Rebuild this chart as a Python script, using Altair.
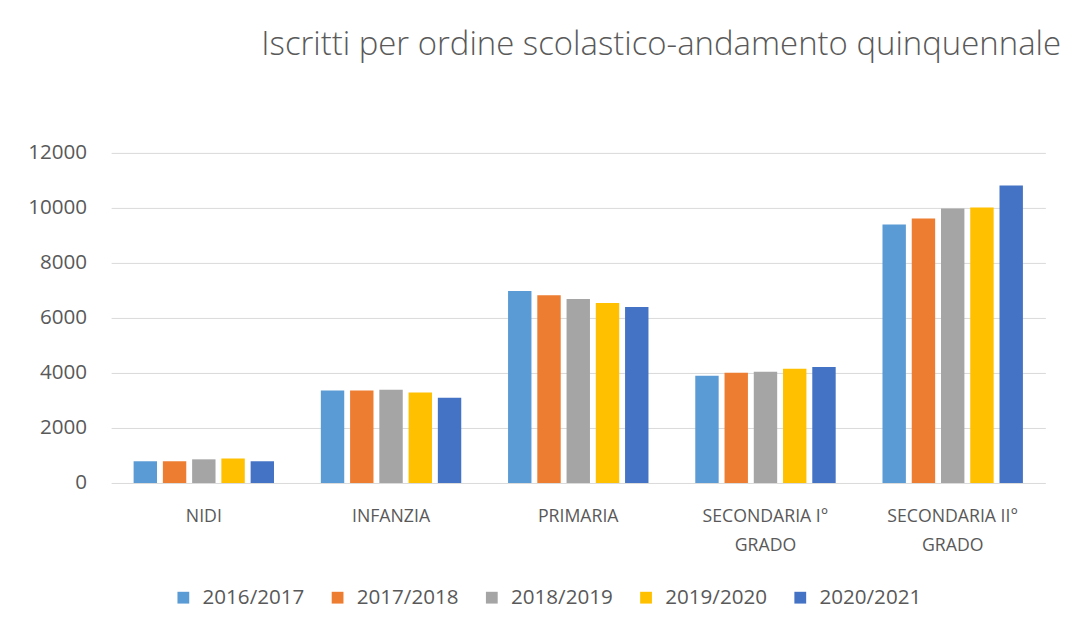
import altair as alt
import pandas as pd

categories = ["NIDI", "INFANZIA", "PRIMARIA", "SECONDARIA I° GRADO", "SECONDARIA II° GRADO"]
years = ["2016/2017", "2017/2018", "2018/2019", "2019/2020", "2020/2021"]
colors = ["#5B9BD5", "#ED7D31", "#A5A5A5", "#FFC000", "#4472C4"]

v_2016 = [790, 3360, 6980, 3900, 9400]
v_2017 = [790, 3360, 6830, 4010, 9620]
v_2018 = [860, 3390, 6690, 4040, 9980]
v_2019 = [890, 3290, 6540, 4150, 10020]
v_2020 = [790, 3100, 6400, 4220, 10820]

series = [v_2016, v_2017, v_2018, v_2019, v_2020]
rows = []
for y, vals in zip(years, series):
    for c, v in zip(categories, vals):
        rows.append({"cat": c, "anno": y, "val": v})
df = pd.DataFrame(rows)

label_expr = ("indexof(datum.label, ' GRADO') > 0 ? "
              "[replace(datum.label, ' GRADO', ''), 'GRADO'] : datum.label")

chart = alt.Chart(df).mark_bar().encode(
    x=alt.X("cat:N", sort=categories, title=None,
            scale=alt.Scale(paddingInner=0.25, paddingOuter=0.12),
            axis=alt.Axis(labelAngle=0, labelExpr=label_expr, domain=False, ticks=False,
                          labelPadding=25, labelFontSize=18, labelColor="#595959",
                          labelFont="Open Sans", labelLineHeight=30)),
    xOffset=alt.XOffset("anno:N", sort=years, scale=alt.Scale(paddingInner=0.2)),
    y=alt.Y("val:Q", title=None,
            scale=alt.Scale(domain=[0, 12000]),
            axis=alt.Axis(values=[0, 2000, 4000, 6000, 8000, 10000, 12000], format="d",
                          domain=False, ticks=False, labelPadding=25, labelFontSize=21,
                          labelColor="#595959", labelFont="Open Sans",
                          gridColor="#D9D9D9", gridWidth=1)),
    color=alt.Color("anno:N", sort=years,
                    scale=alt.Scale(domain=years, range=colors),
                    legend=alt.Legend(title=None, orient="none", direction="horizontal",
                                      legendX=63, legendY=442,
                                      symbolType="square", symbolSize=144, labelFontSize=21,
                                      labelColor="#595959", labelFont="Open Sans",
                                      labelOffset=9, columnPadding=23)),
).properties(
    width=951,
    height=336,
    padding={"left": 19, "top": 15, "right": 5, "bottom": 10},
    title=alt.Title("Iscritti per ordine scolastico-andamento quinquennale",
                    anchor="end", fontSize=33.5, font="Open Sans", fontWeight=300,
                    color="#595959", offset=81, dx=16),
).configure_view(stroke=None)

chart.save("out.html", embed_options={"renderer": "svg", "actions": False})
